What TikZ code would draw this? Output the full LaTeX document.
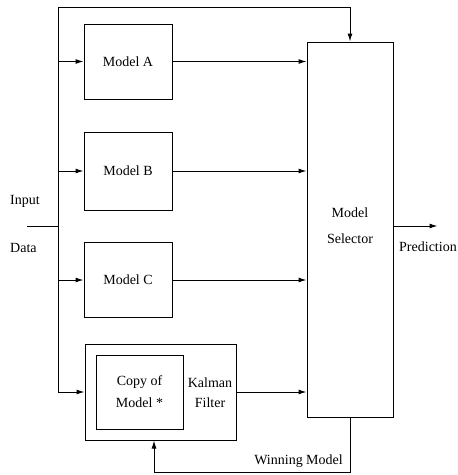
\documentclass[tikz,border=0pt]{standalone}
\usepackage{fontspec}
\setmainfont{Liberation Serif}
\usepackage{tikz}
\usetikzlibrary{positioning, arrows.meta, calc}
\tikzset{
  modelbox/.style={rectangle, minimum width=88pt, minimum height=75pt, text centered, draw=black, line width=1pt, inner sep=0pt},
  label/.style={font=\fontsize{14}{17}\selectfont, align=center, inner sep=0pt},
  arrow/.style={line width=1pt,-{Latex[length=8pt,width=5pt]}},
  line/.style={line width=1pt}
}

\begin{document}
\begin{tikzpicture}[x=1pt, y=-1pt, font=\fontsize{14}{17}\selectfont]

    % Marco de la figura
    \useasboundingbox (0,0) rectangle (458,475);

    % Modelos
    \node[modelbox] (modelA) at (128,61.5) {Model A};
    \node[modelbox, minimum height=78pt] (modelB) at (128,171) {Model B};
    \node[modelbox] (modelC) at (128,280) {Model C};

    % Filtro de Kalman con la copia del modelo
    \node[modelbox, minimum width=151pt, minimum height=96pt] (kalman) at (160.5,392) {};
    \node[modelbox, minimum width=87pt, minimum height=74pt, align=center] (copy) at (139.5,392) {Copy of\\[5pt]Model *};
    \node[label] (kflabel) at (210,393) {Kalman\\[3pt]Filter};

    % Selector de modelo
    \node[modelbox, minimum width=86pt, minimum height=375pt] (selector) at (350,229.5) {};
    \node[label] (sellabel) at (350,226) {Model\\[9pt]Selector};

    % Entrada de datos
    \node[label, anchor=west] (input) at (10,201) {Input};
    \node[label, anchor=west] (data) at (10,248) {Data};
    \coordinate (inp) at (27,226);
    \coordinate (top) at (58,7);

    % Bus de entrada
    \draw[line] (inp) -- (inp -| top);
    \draw[line] (top) -- (top |- kalman.west);
    \draw[arrow] (top |- modelA.west) -- (modelA.west);
    \draw[arrow] (top |- modelB.west) -- (modelB.west);
    \draw[arrow] (top |- modelC.west) -- (modelC.west);
    \draw[arrow] (top |- kalman.west) -- (kalman.west);
    \draw[arrow] (top) -| (selector.north);

    % Salidas hacia el selector
    \draw[arrow] (modelA.east) -- (modelA.east -| selector.west);
    \draw[arrow] (modelB.east) -- (modelB.east -| selector.west);
    \draw[arrow] (modelC.east) -- (modelC.east -| selector.west);
    \draw[arrow] (kalman.east) -- (kalman.east -| selector.west);

    % Prediccion
    \draw[arrow] (selector.east |- inp) -- ++(44,0) coordinate (out);
    \node[label, anchor=west] (pred) at (399,247) {Prediction};

    % Realimentacion del modelo ganador
    \coordinate (fbR) at (350,472);
    \coordinate (fbL) at (154,472);
    \draw[arrow] (selector.south) -- (fbR) -- (fbL) -- (fbL |- kalman.south);
    \node[label, anchor=east] (win) at (343,461) {Winning Model};

\end{tikzpicture}
\end{document}
